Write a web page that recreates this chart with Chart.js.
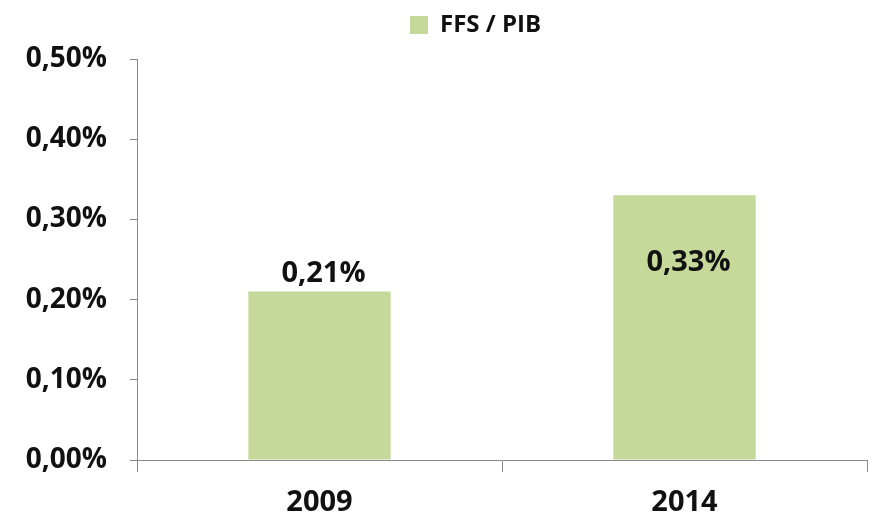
<!DOCTYPE html>
<html>
<head>
<meta charset="utf-8">
<script src="https://cdn.jsdelivr.net/npm/chart.js@4.4.0/dist/chart.umd.min.js"></script>
<style>
  html, body { margin: 0; padding: 0; background: #ffffff; }
  #wrap { width: 887px; height: 521px; }
</style>
</head>
<body>
<div id="wrap"><canvas id="grafico" width="887" height="521"></canvas></div>
<script>
const anos = ["2009", "2014"];
const ffsPib = [0.21, 0.33];
const ticksY = [0, 0.1, 0.2, 0.3, 0.4, 0.5];
const nomeSerie = "FFS / PIB";

const verde = "#c5d99b";
const cinzaEixo = "#8a8a8a";
const fonte = "'Open Sans', 'DejaVu Sans', sans-serif";

function formatar(v) {
  return v.toFixed(2).replace(".", ",") + "%";
}

// legenda um pouco à direita e mais alta, como no original
const ajusteLegenda = {
  id: "ajusteLegenda",
  afterLayout(chart) {
    const leg = chart.legend;
    leg.left += 42;
    leg.right += 42;
    leg.top -= 12;
    leg.bottom -= 12;
  }
};

// rótulos de valor: 2009 fica acima da barra, 2014 dentro da barra
const rotulos = {
  id: "rotulos",
  afterDatasetsDraw(chart) {
    const ctx = chart.ctx;
    const meta = chart.getDatasetMeta(0);
    const desloc = [-18, 67];
    ctx.save();
    ctx.font = "bold 29px " + fonte;
    ctx.fillStyle = "#111111";
    ctx.textAlign = "center";
    ctx.textBaseline = "middle";
    meta.data.forEach((barra, i) => {
      ctx.fillText(formatar(ffsPib[i]), barra.x + 4, barra.y + desloc[i]);
    });
    ctx.restore();
  }
};

new Chart(document.getElementById("grafico"), {
  type: "bar",
  data: {
    labels: anos,
    datasets: [{
      label: nomeSerie,
      data: ffsPib,
      backgroundColor: verde,
      borderWidth: 0,
      barPercentage: 1,
      categoryPercentage: 0.39
    }]
  },
  options: {
    responsive: false,
    animation: false,
    layout: { padding: { left: 0, right: 20, top: 15, bottom: 0 } },
    plugins: {
      tooltip: { enabled: false },
      legend: {
        position: "top",
        labels: {
          boxWidth: 18,
          boxHeight: 18,
          color: "#111111",
          font: { family: fonte, size: 24, weight: "bold" },
          padding: 10
        }
      }
    },
    scales: {
      x: {
        grid: {
          drawOnChartArea: false,
          drawTicks: true,
          tickLength: 12,
          color: cinzaEixo,
          offset: true
        },
        border: { color: cinzaEixo, width: 1 },
        ticks: {
          color: "#111111",
          padding: 13,
          font: { family: fonte, size: 29, weight: "bold" }
        },
        afterFit(scale) { scale.height = 61; }
      },
      y: {
        min: 0,
        max: 0.5,
        afterBuildTicks(scale) {
          scale.ticks = ticksY.map((v) => ({ value: v }));
        },
        grid: {
          drawOnChartArea: false,
          drawTicks: true,
          tickLength: 7,
          color: cinzaEixo
        },
        border: { color: cinzaEixo, width: 1 },
        ticks: {
          color: "#111111",
          padding: 23,
          font: { family: fonte, size: 28, weight: "bold" },
          callback: (v) => formatar(v)
        },
        afterFit(scale) { scale.width = 137; }
      }
    }
  },
  plugins: [ajusteLegenda, rotulos]
});
</script>
</body>
</html>
